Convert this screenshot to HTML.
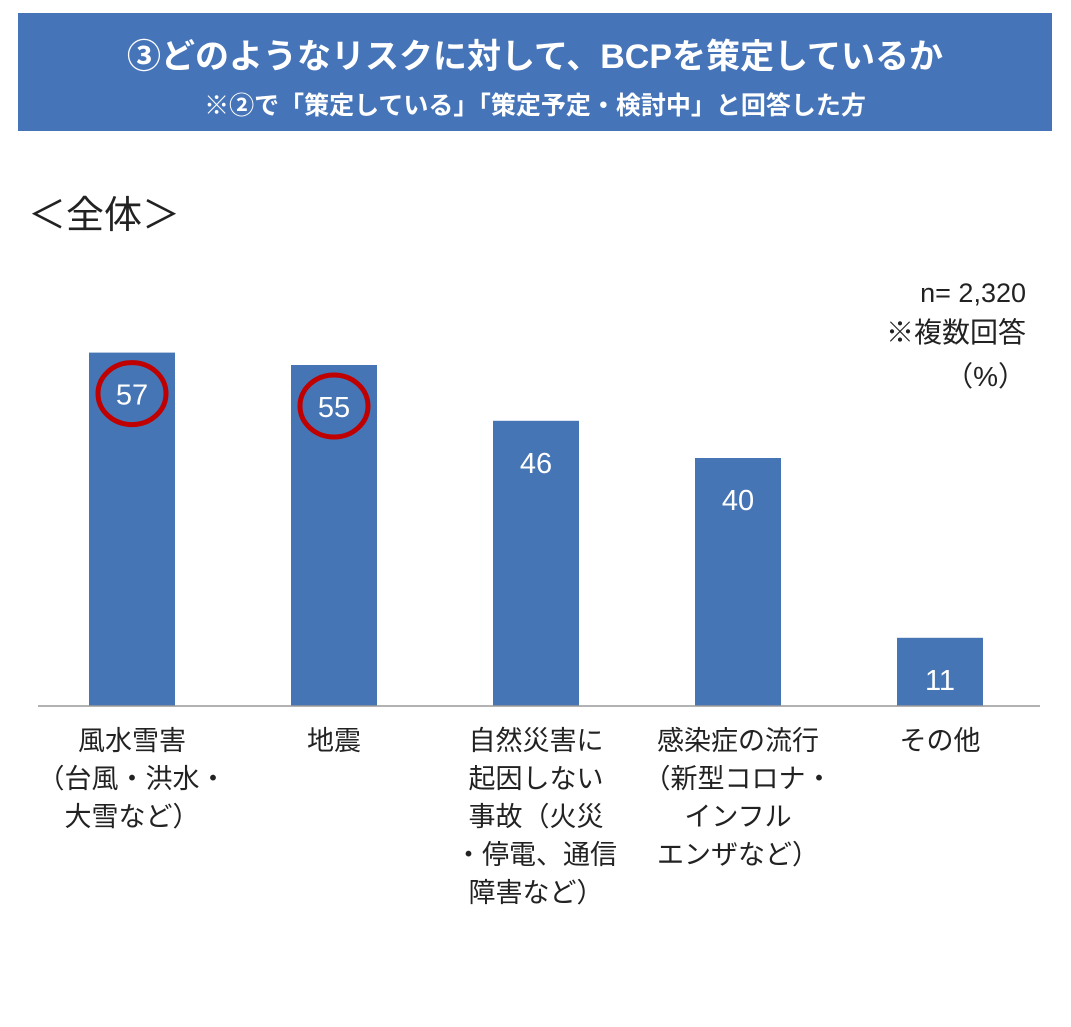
<!DOCTYPE html>
<html><head><meta charset="utf-8"><style>
body{margin:0;background:#fff;width:1071px;height:1022px;overflow:hidden;font-family:"Liberation Sans","Noto Sans CJK JP",sans-serif;}
</style></head><body>
<svg width="1071" height="1022" xmlns="http://www.w3.org/2000/svg" font-family="Liberation Sans, Noto Sans CJK JP, sans-serif">
<rect x="18" y="13" width="1034" height="118" fill="#4674b8"/>
<text x="535" y="68" fill="#fff" font-size="34" font-weight="bold" text-anchor="middle">③どのようなリスクに対して、BCPを策定しているか</text>
<text x="535" y="114" fill="#fff" font-size="25" font-weight="bold" text-anchor="middle">※②で「策定している」「策定予定・検討中」と回答した方</text>
<text x="28" y="228" font-size="38" fill="#222">＜全体＞</text>
<text x="1026" y="302" font-size="27" fill="#222" text-anchor="end">n= 2,320</text>
<text x="1026" y="342" font-size="28" fill="#222" text-anchor="end">※複数回答</text>
<text x="1026" y="386" font-size="28" fill="#222" text-anchor="end">（%）</text>
<g id="bars"></g>
<line x1="38" y1="706" x2="1040" y2="706" stroke="#999" stroke-width="1.5"/>
<g id="labels"></g>
</svg>
<script>
const categories=[["風水雪害","（台風・洪水・","大雪など）"],["地震"],["自然災害に","起因しない","事故（火災","・停電、通信","障害など）"],["感染症の流行","（新型コロナ・","インフル","エンザなど）"],["その他"]];
const values=[57,55,46,40,11];
const highlighted=[true,true,false,false,false];
const NS="http://www.w3.org/2000/svg";
const base=706,scale=6.2,x0=132,step=202,bw=86;
const xPos=i=>x0+i*step, yPos=v=>base-v*scale;
const gb=document.getElementById('bars'),gl=document.getElementById('labels');
values.forEach((v,i)=>{
 const r=document.createElementNS(NS,'rect');
 
 
 r.setAttribute('x',xPos(i)-bw/2);r.setAttribute('y',yPos(v));r.setAttribute('width',bw);r.setAttribute('height',v*scale);r.setAttribute('fill','#4575b5');
 gb.appendChild(r);
 const t=document.createElementNS(NS,'text');
 
 
 t.setAttribute('x',xPos(i));t.setAttribute('y',yPos(v)+52);t.setAttribute('fill','#fff');t.setAttribute('font-size','29');t.setAttribute('text-anchor','middle');
 t.textContent=v;gb.appendChild(t);
 if(highlighted[i]){
  const c=document.createElementNS(NS,'ellipse');
  
  
  c.setAttribute('cx',xPos(i));c.setAttribute('cy',yPos(v)+41);c.setAttribute('rx',34);c.setAttribute('ry',31);c.setAttribute('fill','none');c.setAttribute('stroke','#c00000');c.setAttribute('stroke-width','5');
  gb.appendChild(c);
 }
 categories[i].forEach((line,j)=>{
  const l=document.createElementNS(NS,'text');
  
  
  l.setAttribute('x',xPos(i));l.setAttribute('y',750+j*38);l.setAttribute('font-size','27');l.setAttribute('fill','#222');l.setAttribute('text-anchor','middle');
  l.textContent=line;gl.appendChild(l);
 });
});
</script>
</body></html>
